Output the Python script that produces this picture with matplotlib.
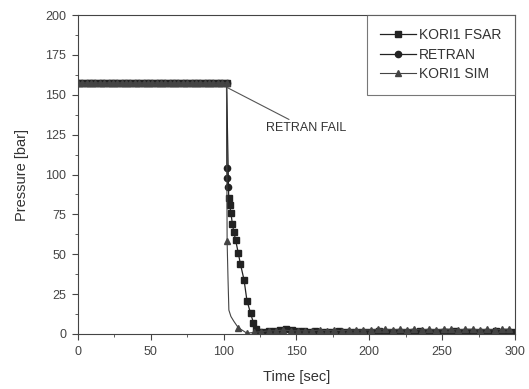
import matplotlib
matplotlib.use("Agg")
import matplotlib.pyplot as plt
from matplotlib.ticker import MultipleLocator

plt.rcParams['font.family'] = ['Liberation Sans', 'DejaVu Sans']

# steady state before the transient (all three codes)
t_flat = [0, 3, 6, 9, 12, 15, 18, 21, 24, 27, 30, 33, 36, 39, 42, 45, 48, 51,
          54, 57, 60, 63, 66, 69, 72, 75, 78, 81, 84, 87, 90, 93, 96, 99, 102]
p_flat = [157.5] * len(t_flat)

# KORI1 FSAR (squares)
fsar_t = t_flat + [103.5, 104.2, 105, 106, 107, 108.2, 110, 111.5, 114, 116,
                   118.5, 120.5, 122, 124,
                   127, 131, 135, 139, 143, 147, 151, 155, 159, 163, 167, 171,
                   175, 179, 183, 187, 191, 195, 199, 203, 207, 211, 215, 219,
                   223, 227, 231, 235, 239, 243, 247, 251, 255, 259, 263, 267,
                   271, 275, 279, 283, 287, 291, 295, 299]
fsar_p = p_flat + [85, 81, 76, 69, 64, 59, 51, 44, 34, 21,
                   13, 7, 3, 1.5,
                   1.5, 1.8, 2.0, 2.5, 3.0, 2.6, 2.0, 1.8, 1.5, 1.6, 1.5, 1.4,
                   1.5, 1.6, 1.5, 1.4, 1.5, 1.5, 1.4, 1.5, 1.6, 1.5, 1.4, 1.5,
                   1.5, 1.4, 1.5, 1.6, 1.5, 1.5, 1.4, 1.5, 1.5, 1.6, 1.5, 1.4,
                   1.5, 1.5, 1.4, 1.5, 1.6, 1.5, 1.4, 1.5]

# RETRAN (circles) - stops at failure
retran_t = t_flat + [102.3, 102.6, 102.9]
retran_p = p_flat + [104, 98, 92]

# KORI1 SIM (triangles)
sim_t = t_flat + [102.4, 103, 103.6, 105, 107, 110, 116,
                  121, 126, 131, 136, 141, 146, 151, 156, 161, 166, 171, 176,
                  181, 186, 191, 196, 201, 206, 211, 216, 221, 226, 231, 236,
                  241, 246, 251, 256, 261, 266, 271, 276, 281, 286, 291, 296]
sim_p = p_flat + [58, 35, 15, 11, 8, 4, 0.5,
                  1.0, 1.5, 2.0, 2.0, 2.5, 2.0, 2.0, 2.0, 2.0, 2.5, 2.0, 2.5,
                  2.0, 2.5, 2.5, 2.5, 2.5, 3.0, 3.0, 2.5, 3.0, 2.5, 3.0, 2.5,
                  3.0, 2.5, 3.0, 3.0, 2.5, 3.0, 3.0, 2.5, 3.0, 2.5, 3.0, 3.0]
# the curve points between the markers carry no triangle
n = len(t_flat)
sim_marker_idx = list(range(0, n)) + [n, n + 5, n + 6] + list(range(n + 7, len(sim_t)))

fig = plt.figure(figsize=(5.29, 3.89), dpi=100)
ax = fig.add_axes([0.1474, 0.1414, 0.826, 0.820])

ax.plot(fsar_t, fsar_p, '-', color='#222222', lw=0.9, marker='s', ms=4,
        label='KORI1 FSAR')
ax.plot(retran_t, retran_p, '-', color='#222222', lw=0.9, marker='o', ms=4.5,
        label='RETRAN')
ax.plot(sim_t, sim_p, '-', color='#444444', lw=0.8, marker='^', ms=4.5,
        markevery=sim_marker_idx, label='KORI1 SIM')

ax.annotate('RETRAN FAIL', xy=(102.5, 154.5), xytext=(129, 129),
            fontsize=9, color='#333333', va='center',
            arrowprops=dict(arrowstyle='-', color='#555555', lw=0.8,
                            shrinkA=0, shrinkB=0))

ax.set_xlim(0, 300)
ax.set_ylim(0, 200)
ax.xaxis.set_major_locator(MultipleLocator(50))
ax.xaxis.set_minor_locator(MultipleLocator(25))
ax.yaxis.set_major_locator(MultipleLocator(25))
ax.yaxis.set_minor_locator(MultipleLocator(12.5))
ax.tick_params(which='both', direction='out', colors='#444444', labelsize=9)
ax.tick_params(which='major', length=4.5, pad=4)
ax.tick_params(which='minor', length=2.5)
for s in ax.spines.values():
    s.set_color('#444444')
    s.set_linewidth(0.8)

ax.set_xlabel('Time [sec]', fontsize=10.5, color='#333333', labelpad=9)
ax.set_ylabel('Pressure [bar]', fontsize=10.5, color='#333333', labelpad=12)

leg = ax.legend(loc='upper right', fontsize=10, frameon=True, fancybox=False,
                edgecolor='#555555', handlelength=2.6, borderpad=0.95,
                labelspacing=0.4, handletextpad=0.25,
                bbox_to_anchor=(1.0, 1.0), borderaxespad=0)
leg.get_frame().set_linewidth(0.8)
for t in leg.get_texts():
    t.set_color('#333333')

fig.savefig('out.png', dpi=100)
